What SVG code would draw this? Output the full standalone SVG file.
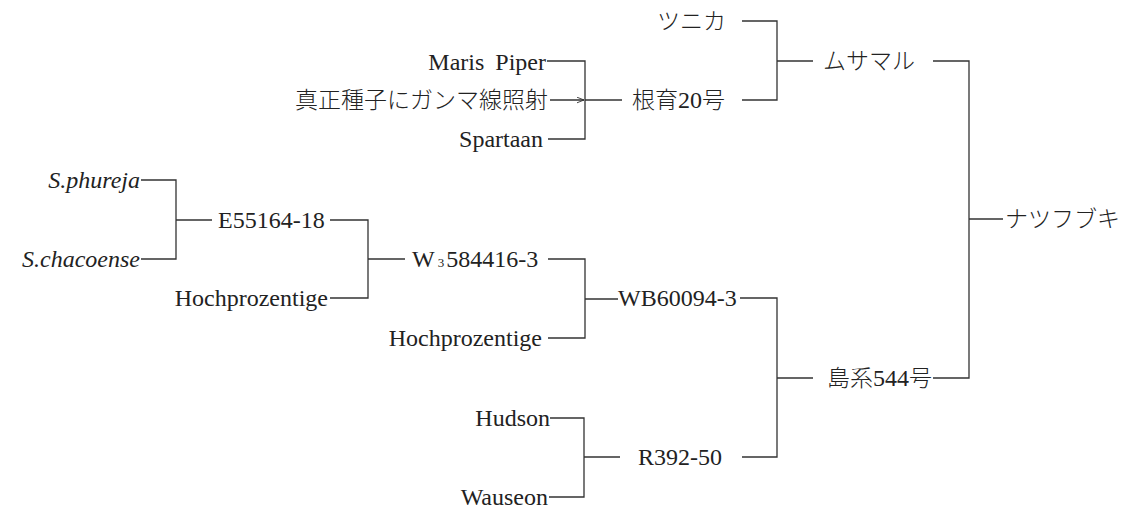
<svg xmlns="http://www.w3.org/2000/svg" width="1126" height="510" viewBox="0 0 1126 510">
<style>
text{font-family:"Liberation Serif","Noto Sans CJK JP",serif;font-size:24px;fill:#222}
.j{font-family:"Noto Sans CJK JP","Noto Sans CJK SC",sans-serif;font-size:23px;font-weight:300}
.e{text-anchor:end}
.i{font-style:italic}
.c{fill:none;stroke:#333;stroke-width:1.3}
</style>
<defs>
<marker id="ar" viewBox="0 0 10 10" refX="10" refY="5" markerWidth="7" markerHeight="7" orient="auto" markerUnits="userSpaceOnUse">
<path d="M0,1 L10,5 L0,9" fill="none" stroke="#333" stroke-width="1.3"/>
</marker>
</defs>
<rect width="1126" height="510" fill="#fff"/>
<g id="connectors">
<path class="c" d="M547,61 H585 V139 H548"/>
<path class="c" d="M550,100 H584" marker-end="url(#ar)"/>
<path class="c" d="M585,100 H622"/>
<path class="c" d="M742,21 H777 V100 H742 M777,61 H813"/>
<path class="c" d="M933,61 H969 V378 H933 M969,219 H1003"/>
<path class="c" d="M141,180 H176 V259 H141 M176,220 H212"/>
<path class="c" d="M330,220 H368 V298 H330 M368,259 H405"/>
<path class="c" d="M548,259 H585 V338 H548 M585,299 H618"/>
<path class="c" d="M740,298 H777 V457 H742 M777,378 H813"/>
<path class="c" d="M550,418 H584 V497 H549 M584,457 H620"/>
</g>
<g id="n-tsunika"><text class="j" x="657" y="29">ツニカ</text></g>
<g id="n-musamaru"><text class="j" x="823" y="69">ムサマル</text></g>
<g id="n-maris"><text class="e" x="546" y="70" word-spacing="5">Maris Piper</text></g>
<g id="n-gamma"><text class="j e" x="548" y="108">真正種子にガンマ線照射</text></g>
<g id="n-konsei"><text x="632" y="108"><tspan class="j">根育</tspan>20<tspan class="j">号</tspan></text></g>
<g id="n-spartaan"><text class="e" x="543" y="147">Spartaan</text></g>
<g id="n-natsufubuki"><text class="j" x="1005" y="227">ナツフブキ</text></g>
<g id="n-phureja"><text class="e i" x="140" y="188">S.phureja</text></g>
<g id="n-chacoense"><text class="e i" x="140" y="267">S.chacoense</text></g>
<g id="n-e55164"><text x="218" y="228">E55164-18</text></g>
<g id="n-hoch1"><text class="e" x="328" y="306">Hochprozentige</text></g>
<g id="n-w3"><text x="412" y="267">W<tspan font-size="13" dx="3">3</tspan><tspan dx="2">584416-3</tspan></text></g>
<g id="n-hoch2"><text class="e" x="542" y="346">Hochprozentige</text></g>
<g id="n-wb60094"><text x="618" y="306">WB60094-3</text></g>
<g id="n-shima544"><text x="827" y="386"><tspan class="j">島系</tspan>544<tspan class="j">号</tspan></text></g>
<g id="n-hudson"><text class="e" x="550" y="426">Hudson</text></g>
<g id="n-r392"><text x="638" y="465">R392-50</text></g>
<g id="n-wauseon"><text class="e" x="548" y="505">Wauseon</text></g>
</svg>
